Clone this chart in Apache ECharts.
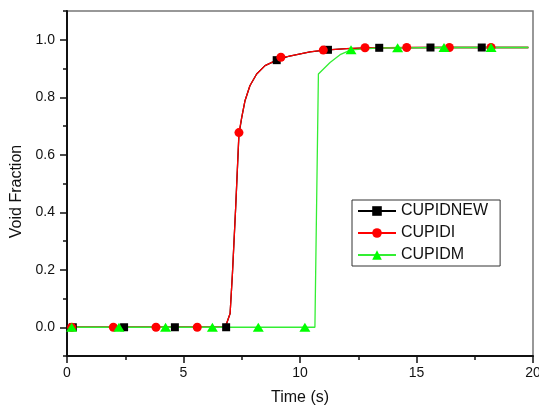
<!DOCTYPE html>
<html>
<head>
<meta charset="utf-8">
<script src="https://cdn.jsdelivr.net/npm/echarts@6/dist/echarts.min.js"></script>
<style>
html,body{margin:0;padding:0;background:#fff;}
#c{width:539px;height:409px;}
</style>
</head>
<body>
<div id="c"></div>
<script>
// ---- data ----
const seriesNames = ['CUPIDNEW', 'CUPIDI', 'CUPIDM'];

const cupidNewLine = [[0.2,0],[6.7,0],[6.85,0.013],[7.0,0.048],[7.1,0.186],[7.24,0.418],[7.38,0.67],[7.5,0.73],[7.64,0.788],[7.85,0.84],[8.14,0.881],[8.5,0.91],[9.0,0.929],[9.5,0.942],[10.43,0.958],[11.2,0.965],[12.0,0.969],[13.0,0.972],[19.8,0.973]];
const cupidNewMarks = [[0.25,0],[2.45,0],[4.63,0],[6.83,0],[9.0,0.929],[11.2,0.965],[13.4,0.972],[15.6,0.973],[17.8,0.973]];

const cupidILine = [[0.2,0],[6.7,0],[6.85,0.013],[7.0,0.048],[7.1,0.186],[7.24,0.418],[7.38,0.677],[7.5,0.73],[7.64,0.788],[7.85,0.84],[8.14,0.881],[8.5,0.91],[9.0,0.929],[9.5,0.942],[10.43,0.958],[11.2,0.965],[12.0,0.969],[13.0,0.972],[19.8,0.973]];
const cupidIMarks = [[0.2,0],[1.99,0],[3.82,0],[5.59,0],[7.38,0.677],[9.18,0.939],[11.0,0.964],[12.79,0.972],[14.58,0.973],[16.41,0.973],[18.2,0.973]];

const cupidMLine = [[0.2,0],[10.64,0],[10.79,0.881],[11.29,0.921],[11.72,0.948],[12.19,0.965],[13.43,0.972],[19.8,0.973]];
const cupidMMarks = [[0.2,0],[2.23,0],[4.23,0],[6.24,0],[8.21,0],[10.21,0],[12.19,0.965],[14.19,0.972],[16.18,0.973],[18.2,0.973]];

const xTickLabels = [0, 5, 10, 15, 20];
const yTickLabels = [0.0, 0.2, 0.4, 0.6, 0.8, 1.0];
const yMinorTicks = [-0.1, 0.1, 0.3, 0.5, 0.7, 0.9, 1.1];

// ---- build ----
function merge(line, marks) {
  const pts = line.map(p => ({ value: p, _m: 0 }))
    .concat(marks.map(p => ({ value: p, _m: 1 })));
  pts.sort((a, b) => a.value[0] - b.value[0] || a._m - b._m);
  return pts.map(p => p._m ? { value: p.value } : { value: p.value, symbol: 'none' });
}

const FONT = 'Liberation Sans, Arial, sans-serif';
const chart = echarts.init(document.getElementById('c'), null, { renderer: 'canvas' });

const option = {
  animation: false,
  backgroundColor: '#fff',
  grid: { left: 67, right: 6, top: 11, bottom: 53, containLabel: false, outerBoundsMode: 'none',
    show: true, borderColor: '#777', borderWidth: 1.5, backgroundColor: 'transparent' },
  legend: {
    orient: 'vertical',
    left: 352, top: 200,
    padding: [3, 12, 3, 5],
    itemWidth: 38, itemHeight: 12, itemGap: 6,
    borderColor: '#333', borderWidth: 1,
    backgroundColor: '#fff',
    textStyle: { fontFamily: FONT, fontSize: 16, color: '#111' },
    data: seriesNames
  },
  xAxis: {
    type: 'value', min: 0, max: 20, interval: 5,
    name: 'Time (s)', nameLocation: 'middle', nameGap: 34,
    nameTextStyle: { fontFamily: FONT, fontSize: 16, color: '#111' },
    axisLine: { onZero: false, lineStyle: { color: '#111', width: 2 } },
    axisTick: { length: 7, lineStyle: { color: '#111', width: 1.5 } },
    minorTick: { show: true, splitNumber: 2, length: 4, lineStyle: { color: '#111', width: 1.5 } },
    axisLabel: { fontFamily: FONT, fontSize: 14, color: '#111', margin: 10, hideOverlap: false,
      formatter: v => xTickLabels.indexOf(v) >= 0 ? String(v) : '' },
    splitLine: { show: false }
  },
  yAxis: [{
    type: 'value', min: -0.1, max: 1.1,
    name: 'Void Fraction', nameLocation: 'middle', nameGap: 40,
    nameTextStyle: { fontFamily: FONT, fontSize: 16, color: '#111', padding: [0, 16, 0, 0] },
    axisLine: { show: true, onZero: false, lineStyle: { color: '#111', width: 2 } },
    axisTick: { show: true, length: 7, customValues: yTickLabels, lineStyle: { color: '#111', width: 1.5 } },
    axisLabel: { fontFamily: FONT, fontSize: 14, color: '#111', margin: 12, customValues: yTickLabels,
      formatter: v => Number(v).toFixed(1) },
    splitLine: { show: false }
  }, {
    type: 'value', min: -0.1, max: 1.1, position: 'left',
    axisLine: { show: false, onZero: false },
    axisTick: { show: true, length: 4, customValues: yMinorTicks, lineStyle: { color: '#111', width: 1.5 } },
    axisLabel: { show: false, customValues: yMinorTicks },
    splitLine: { show: false }
  }],
  series: [
    { name: seriesNames[0], type: 'line', symbol: 'rect', symbolSize: 8,
      color: '#000', lineStyle: { color: '#000', width: 1.3 }, itemStyle: { color: '#000' },
      data: merge(cupidNewLine, cupidNewMarks) },
    { name: seriesNames[1], type: 'line', symbol: 'circle', symbolSize: 9,
      color: '#ff0000', lineStyle: { color: '#ff0000', width: 1.3 }, itemStyle: { color: '#ff0000' },
      data: merge(cupidILine, cupidIMarks) },
    { name: seriesNames[2], type: 'line', symbol: 'triangle', symbolSize: [11, 9],
      color: '#00ff00', lineStyle: { color: '#33ee33', width: 1.3 }, itemStyle: { color: '#00ff00' },
      data: merge(cupidMLine, cupidMMarks) }
  ]
};
chart.setOption(option);
</script>
</body>
</html>
